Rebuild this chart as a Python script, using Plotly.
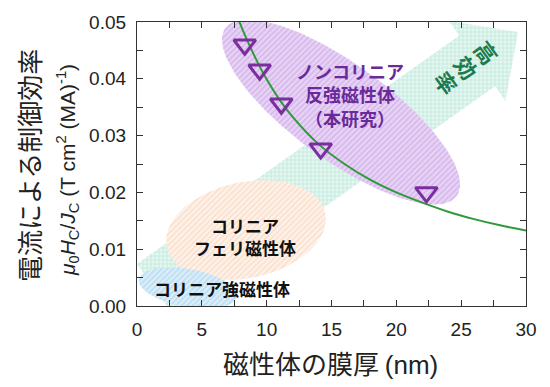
import numpy as np
import plotly.graph_objects as go

# ---------------- data ----------------
thickness_nm = [8.31, 9.46, 11.13, 14.17, 22.32]
efficiency = [0.0460, 0.0416, 0.0356, 0.0277, 0.0200]

fit_x = [7.6, 7.9, 9, 10, 11, 12, 14, 16, 18, 20, 22, 24, 26, 28, 30]
fit_y = [0.0520, 0.0500, 0.0443, 0.0399, 0.0363, 0.0333, 0.0285, 0.0250,
         0.0222, 0.0200, 0.0182, 0.0166, 0.0153, 0.0142, 0.0133]

x_tick_vals = [0, 5, 10, 15, 20, 25, 30]
y_tick_vals = [0.00, 0.01, 0.02, 0.03, 0.04, 0.05]

# ---------------- geometry of the plot area (pixels) ----------------
WIDTH, HEIGHT = 550, 387
L, T, PW, PH = 137, 22, 389, 284
R, B = L + PW, T + PH
XMAX, YMAX = 30.0, 0.05

def to_data(px, py):
    px = np.asarray(px, float); py = np.asarray(py, float)
    return (px - L) / PW * XMAX, (B - py) / PH * YMAX

def ellipse(cx, cy, a, b, ang_deg, n=160):
    t = np.linspace(0, 2 * np.pi, n)
    ang = np.radians(ang_deg)
    u, v = a * np.cos(t), b * np.sin(t)
    px = cx + u * np.cos(ang) - v * np.sin(ang)
    py = cy + u * np.sin(ang) + v * np.cos(ang)
    return to_data(px, py)

fig = go.Figure()

# ---------------- big "high efficiency" arrow ----------------
d = np.array([0.816, -0.578]); nrm = np.array([0.578, 0.816])
tip = np.array([518.0, 32.0])
base = tip - 50 * d
tail = base - 395 * d
pts = [tail - nrm * 31, base - nrm * 31, base - nrm * 49, tip,
       base + nrm * 49, base + nrm * 31, tail + nrm * 31, tail - nrm * 31]
ax_, ay_ = to_data([p[0] for p in pts], [p[1] for p in pts])
fig.add_trace(go.Scatter(
    x=ax_, y=ay_, mode="lines", fill="toself", line=dict(width=0, color="rgba(0,0,0,0)"),
    fillcolor="#e3f6ef",
    fillpattern=dict(shape="+", size=4, solidity=0.45, fgcolor="#a6e0cc", bgcolor="#e6f7f1"),
    hoverinfo="skip", showlegend=False))

# ---------------- region ellipses ----------------
def add_ellipse(params, fg, bg):
    ex, ey = ellipse(*params)
    fig.add_trace(go.Scatter(
        x=ex, y=ey, mode="lines", fill="toself", line=dict(width=0, color="rgba(0,0,0,0)"),
        fillcolor=bg,
        fillpattern=dict(shape="/", size=4, solidity=0.45, fgcolor=fg, bgcolor=bg),
        hoverinfo="skip", showlegend=False))

add_ellipse((246, 230, 81, 48, -12), "#f6cdb0", "#fef2ea")   # collinear ferri
add_ellipse((188, 288, 50, 19, 10), "#9ccdec", "#dbeef9")    # collinear ferro
add_ellipse((341, 112, 143, 48, 36), "#c49ae4", "#e8d4f5")   # noncollinear AF

# ---------------- fit curve and data ----------------
fig.add_trace(go.Scatter(
    x=fit_x, y=fit_y, mode="lines", line=dict(color="#2e9a3c", width=2, shape="spline"),
    hoverinfo="skip", showlegend=False))
fig.add_trace(go.Scatter(
    x=thickness_nm, y=efficiency, mode="markers",
    marker=dict(symbol="triangle-down-open", size=19, color="#7b2f9e",
                line=dict(width=3, color="#7b2f9e")),
    showlegend=False))

JP = "Noto Sans CJK JP, Noto Sans CJK SC, sans-serif"
LAT = "Liberation Sans, Arial, sans-serif"

anns = []
def text_at(px, py, txt, size, color, angle=0):
    x, y = to_data(px, py)
    anns.append(dict(x=float(x), y=float(y), xref="x", yref="y", text=txt, showarrow=False,
                     textangle=angle, xanchor="center", yanchor="middle",
                     font=dict(family=JP, size=size, color=color)))

text_at(350, 94, "<b>ノンコリニア<br>反強磁性体<br>（本研究）</b>", 18, "#6a2a9a")
text_at(245, 236, "<b>コリニア<br>フェリ磁性体</b>", 17, "#111111")
text_at(222, 288, "<b>コリニア強磁性体</b>", 17, "#111111")
for (px, py, ch) in [(487, 52, "高"), (467, 67, "効"), (447, 82, "率")]:
    text_at(px, py, "<b>" + ch + "</b>", 22, "#1b7a4e", angle=54)

# axis titles
anns.append(dict(x=(28 - L) / PW, y=(B - 166) / PH, xref="paper", yref="paper",
                 text="電流による制御効率", showarrow=False, textangle=-90,
                 xanchor="center", yanchor="middle",
                 font=dict(family=JP, size=26, color="#222222")))
anns.append(dict(x=(67 - L) / PW, y=(B - 170) / PH, xref="paper", yref="paper",
                 text="<i>μ</i><sub>0</sub><i>H</i><sub>C</sub>/<i>J</i><sub>C</sub> (T cm<sup>2</sup> (MA)<sup>-1</sup>)",
                 showarrow=False, textangle=-90, xanchor="center", yanchor="middle",
                 font=dict(family=LAT, size=21, color="#222222")))
anns.append(dict(x=(330 - L) / PW, y=(B - 362) / PH, xref="paper", yref="paper",
                 text="磁性体の膜厚 <span style='font-family:Liberation Sans'>(nm)</span>",
                 showarrow=False, xanchor="center", yanchor="middle",
                 font=dict(family=JP, size=26, color="#222222")))

axis_common = dict(showgrid=False, zeroline=False, showline=True, linecolor="#333333",
                   linewidth=1.3, mirror="ticks", ticks="inside", ticklen=6, tickwidth=1.3,
                   tickcolor="#333333", ticklabelstandoff=6,
                   tickfont=dict(family=LAT, size=19, color="#222222"))

fig.update_layout(
    width=WIDTH, height=HEIGHT,
    margin=dict(l=L, r=WIDTH - R, t=T, b=HEIGHT - B, pad=0),
    paper_bgcolor="white", plot_bgcolor="white",
    showlegend=False, annotations=anns,
    xaxis=dict(range=[0, XMAX], tickvals=x_tick_vals,
               minor=dict(dtick=2.5, ticks="inside", ticklen=6, tickwidth=1.3, tickcolor="#333333"),
               **axis_common),
    yaxis=dict(range=[0, YMAX], tickvals=y_tick_vals, tickformat=".2f",
               minor=dict(dtick=0.005, ticks="inside", ticklen=6, tickwidth=1.3, tickcolor="#333333"),
               **axis_common),
)

fig.write_html("out.html", config={"displayModeBar": False},
               post_script="document.body.style.margin='0px';document.body.style.overflow='hidden';")
